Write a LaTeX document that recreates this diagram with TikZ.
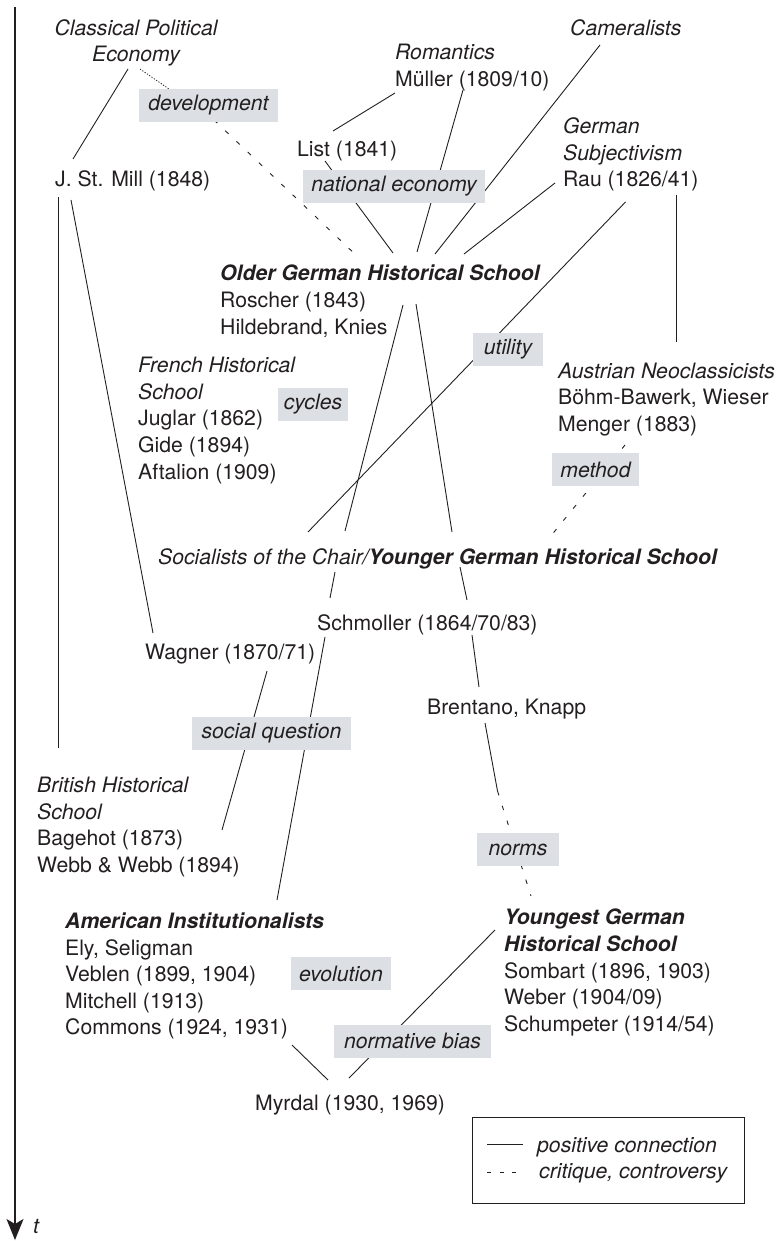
\documentclass[tikz,border=0pt]{standalone}
\usepackage{fontspec}
\setmainfont{TeX Gyre Heros}
\usetikzlibrary{arrows.meta}
\definecolor{ink}{HTML}{231F20}
\definecolor{tagfill}{HTML}{DCDFE3}
\newcommand\chartfont{\fontsize{21.2}{26.6}\selectfont}
\begin{document}
\begin{tikzpicture}[x=1pt,y=-1pt,
  every node/.style={text=ink},
  txt/.style={anchor=north west, inner sep=0pt, align=left, font=\chartfont},
  tag/.style={fill=tagfill, inner sep=0pt, minimum height=33pt, font=\chartfont\itshape},
  link/.style={draw=ink, line width=0.9pt},
  crit/.style={link, dash pattern=on 4.5pt off 11pt},
  faint/.style={link, line width=0.8pt, dash pattern=on 1.2pt off 1.6pt},
  ]
\useasboundingbox (0,0) rectangle (779,1241);

% time axis
\coordinate (axis-top) at (15,7);
\coordinate (axis-end) at (15,1240);
\draw[draw=ink, line width=1.3pt, -{Stealth[length=21pt,width=17pt,inset=5pt]}] (axis-top) -- (axis-end);
\node[anchor=base west, inner sep=0pt, font=\chartfont\itshape] (tlab) at (33,1233) {t};

% schools and authors
\node[txt, anchor=north, align=center, font=\chartfont\itshape] (cpe) at (136,19) {Classical Political\\Economy};
\node[txt] (rom) at (395,44) {\textit{Romantics}\\Müller (1809/10)};
\node[txt] (cam) at (570,19) {\textit{Cameralists}};
\node[txt] (list) at (297,141) {List (1841)};
\node[txt] (gsub) at (563,117.5) {\textit{German}\\\textit{Subjectivism}\\Rau (1826/41)};
\node[txt] (mill) at (55,170) {J. St. Mill (1848)};
\node[txt] (older) at (220,265) {\textbf{\textit{Older German Historical School}}\\Roscher (1843)\\Hildebrand, Knies};
\node[txt] (french) at (138,357) {\textit{French Historical}\\\textit{School}\\Juglar (1862)\\Gide (1894)\\Aftalion (1909)};
\node[txt] (austr) at (558,362.5) {\textit{Austrian Neoclassicists}\\Böhm-Bawerk, Wieser\\Menger (1883)};
\node[txt] (soc) at (158,548.5) {\textit{Socialists of the Chair/\textbf{Younger German Historical School}}};
\node[txt] (schm) at (317,614.5) {Schmoller (1864/70/83)};
\node[txt] (wag) at (145,643.5) {Wagner (1870/71)};
\node[txt] (bren) at (427,698.5) {Brentano, Knapp};
\node[txt] (brit) at (37,777) {\textit{British Historical}\\\textit{School}\\Bagehot (1873)\\Webb \& Webb (1894)};
\node[txt] (amer) at (65,912.5) {\textbf{\textit{American Institutionalists}}\\Ely, Seligman\\Veblen (1899, 1904)\\Mitchell (1913)\\Commons (1924, 1931)};
\node[txt] (young) at (504,909) {\textbf{\textit{Youngest German}}\\\textbf{\textit{Historical School}}\\Sombart (1896, 1903)\\Weber (1904/09)\\Schumpeter (1914/54)};
\node[txt] (myr) at (255,1095) {Myrdal (1930, 1969)};

% connector end points
\coordinate (cpe-s1) at (128,69);    \coordinate (mill-n) at (73,159);
\coordinate (cpe-s2) at (140,69);    \coordinate (dev-bend) at (214,120);
\coordinate (older-n1) at (358,257);
\coordinate (rom-s1) at (395,93);    \coordinate (list-ne) at (333,131);
\coordinate (list-s) at (325,161);   \coordinate (older-n2) at (393,253);
\coordinate (rom-s2) at (463,90);    \coordinate (older-n3) at (417,252);
\coordinate (cam-s) at (600,45);     \coordinate (older-n4) at (435,254);
\coordinate (gsub-s1) at (555,183);  \coordinate (older-n5) at (464,254);
\coordinate (gsub-s2) at (625.5,202); \coordinate (soc-n1) at (308,532);
\coordinate (gsub-s3) at (676,195);  \coordinate (austr-n) at (676,342);
\coordinate (older-s1) at (403,305); \coordinate (soc-n2) at (345,531);
\coordinate (older-s2) at (416,304); \coordinate (soc-n3) at (452,532);
\coordinate (austr-s) at (625,445);  \coordinate (soc-n4) at (550,537);
\coordinate (mill-s1) at (58,197);   \coordinate (brit-n) at (58,748);
\coordinate (mill-s2) at (71,200);   \coordinate (wag-n) at (153,633);
\coordinate (soc-s1) at (335,572);   \coordinate (schm-n1) at (330,598);
\coordinate (soc-s2) at (460,567);   \coordinate (schm-n2) at (467,600);
\coordinate (schm-s1) at (472,635);  \coordinate (bren-n) at (479,687);
\coordinate (wag-s) at (267,671);    \coordinate (brit-ne) at (222,830);
\coordinate (schm-s2) at (325,637);  \coordinate (amer-n) at (277,900);
\coordinate (bren-s) at (485,723);   \coordinate (norms-bend) at (497.5,791);
\coordinate (young-n) at (531,896);
\coordinate (amer-se) at (292,1045); \coordinate (myr-n1) at (328,1080);
\coordinate (young-w) at (495,930);  \coordinate (myr-n2) at (349,1078);

% positive connections
\draw[link] (cpe-s1) -- (mill-n);
\draw[link] (rom-s1) -- (list-ne);
\draw[link] (list-s) -- (older-n2);
\draw[link] (rom-s2) -- (older-n3);
\draw[link] (cam-s) -- (older-n4);
\draw[link] (gsub-s1) -- (older-n5);
\draw[link] (gsub-s2) -- (soc-n1);
\draw[link] (gsub-s3) -- (austr-n);
\draw[link] (older-s1) -- (soc-n2);
\draw[link] (older-s2) -- (soc-n3);
\draw[link] (mill-s1) -- (brit-n);
\draw[link] (mill-s2) -- (wag-n);
\draw[link] (soc-s1) -- (schm-n1);
\draw[link] (soc-s2) -- (schm-n2);
\draw[link] (schm-s1) -- (bren-n);
\draw[link] (wag-s) -- (brit-ne);
\draw[link] (schm-s2) -- (amer-n);
\draw[link] (bren-s) -- (norms-bend);
\draw[link] (amer-se) -- (myr-n1);
\draw[link] (young-w) -- (myr-n2);

% critique and controversy
\draw[faint] (cpe-s2) -- (dev-bend);
\draw[crit] (dev-bend) -- (older-n1);
\draw[crit] (austr-s) -- (soc-n4);
\draw[crit] (norms-bend) -- (young-n);

% topic tags on the connectors
\node[tag, minimum width=139pt] (t-dev) at (208.5,105.5) {development};
\node[tag, minimum width=182pt] (t-nat) at (394,186.5) {national economy};
\node[tag, minimum width=70pt] (t-util) at (508,349.5) {utility};
\node[tag, minimum width=70pt] (t-cyc) at (313,404.5) {cycles};
\node[tag, minimum width=87pt] (t-meth) at (595.5,469.5) {method};
\node[tag, minimum width=159pt] (t-soc) at (271.5,733.5) {social question};
\node[tag, minimum width=82pt] (t-norm) at (518,849.5) {norms};
\node[tag, minimum width=100pt] (t-evo) at (341,973.5) {evolution};
\node[tag, minimum width=157pt] (t-bias) at (412.5,1041) {normative bias};

% legend
\node[draw=ink, line width=1pt, inner sep=0pt, minimum width=272pt, minimum height=86pt, anchor=north west] (legend) at (472,1117) {};
\coordinate (lg-s-a) at (487,1144);  \coordinate (lg-s-b) at (523,1144);
\coordinate (lg-d-a) at (487,1172);  \coordinate (lg-d-b) at (523,1172);
\draw[link] (lg-s-a) -- (lg-s-b);
\draw[link, dash pattern=on 4pt off 8.5pt] (lg-d-a) -- (lg-d-b);
\node[anchor=base west, inner sep=0pt, font=\chartfont\itshape] (lg-pos) at (537,1152) {positive connection};
\node[anchor=base west, inner sep=0pt, font=\chartfont\itshape] (lg-crit) at (539,1178.5) {critique, controversy};
\end{tikzpicture}
\end{document}
